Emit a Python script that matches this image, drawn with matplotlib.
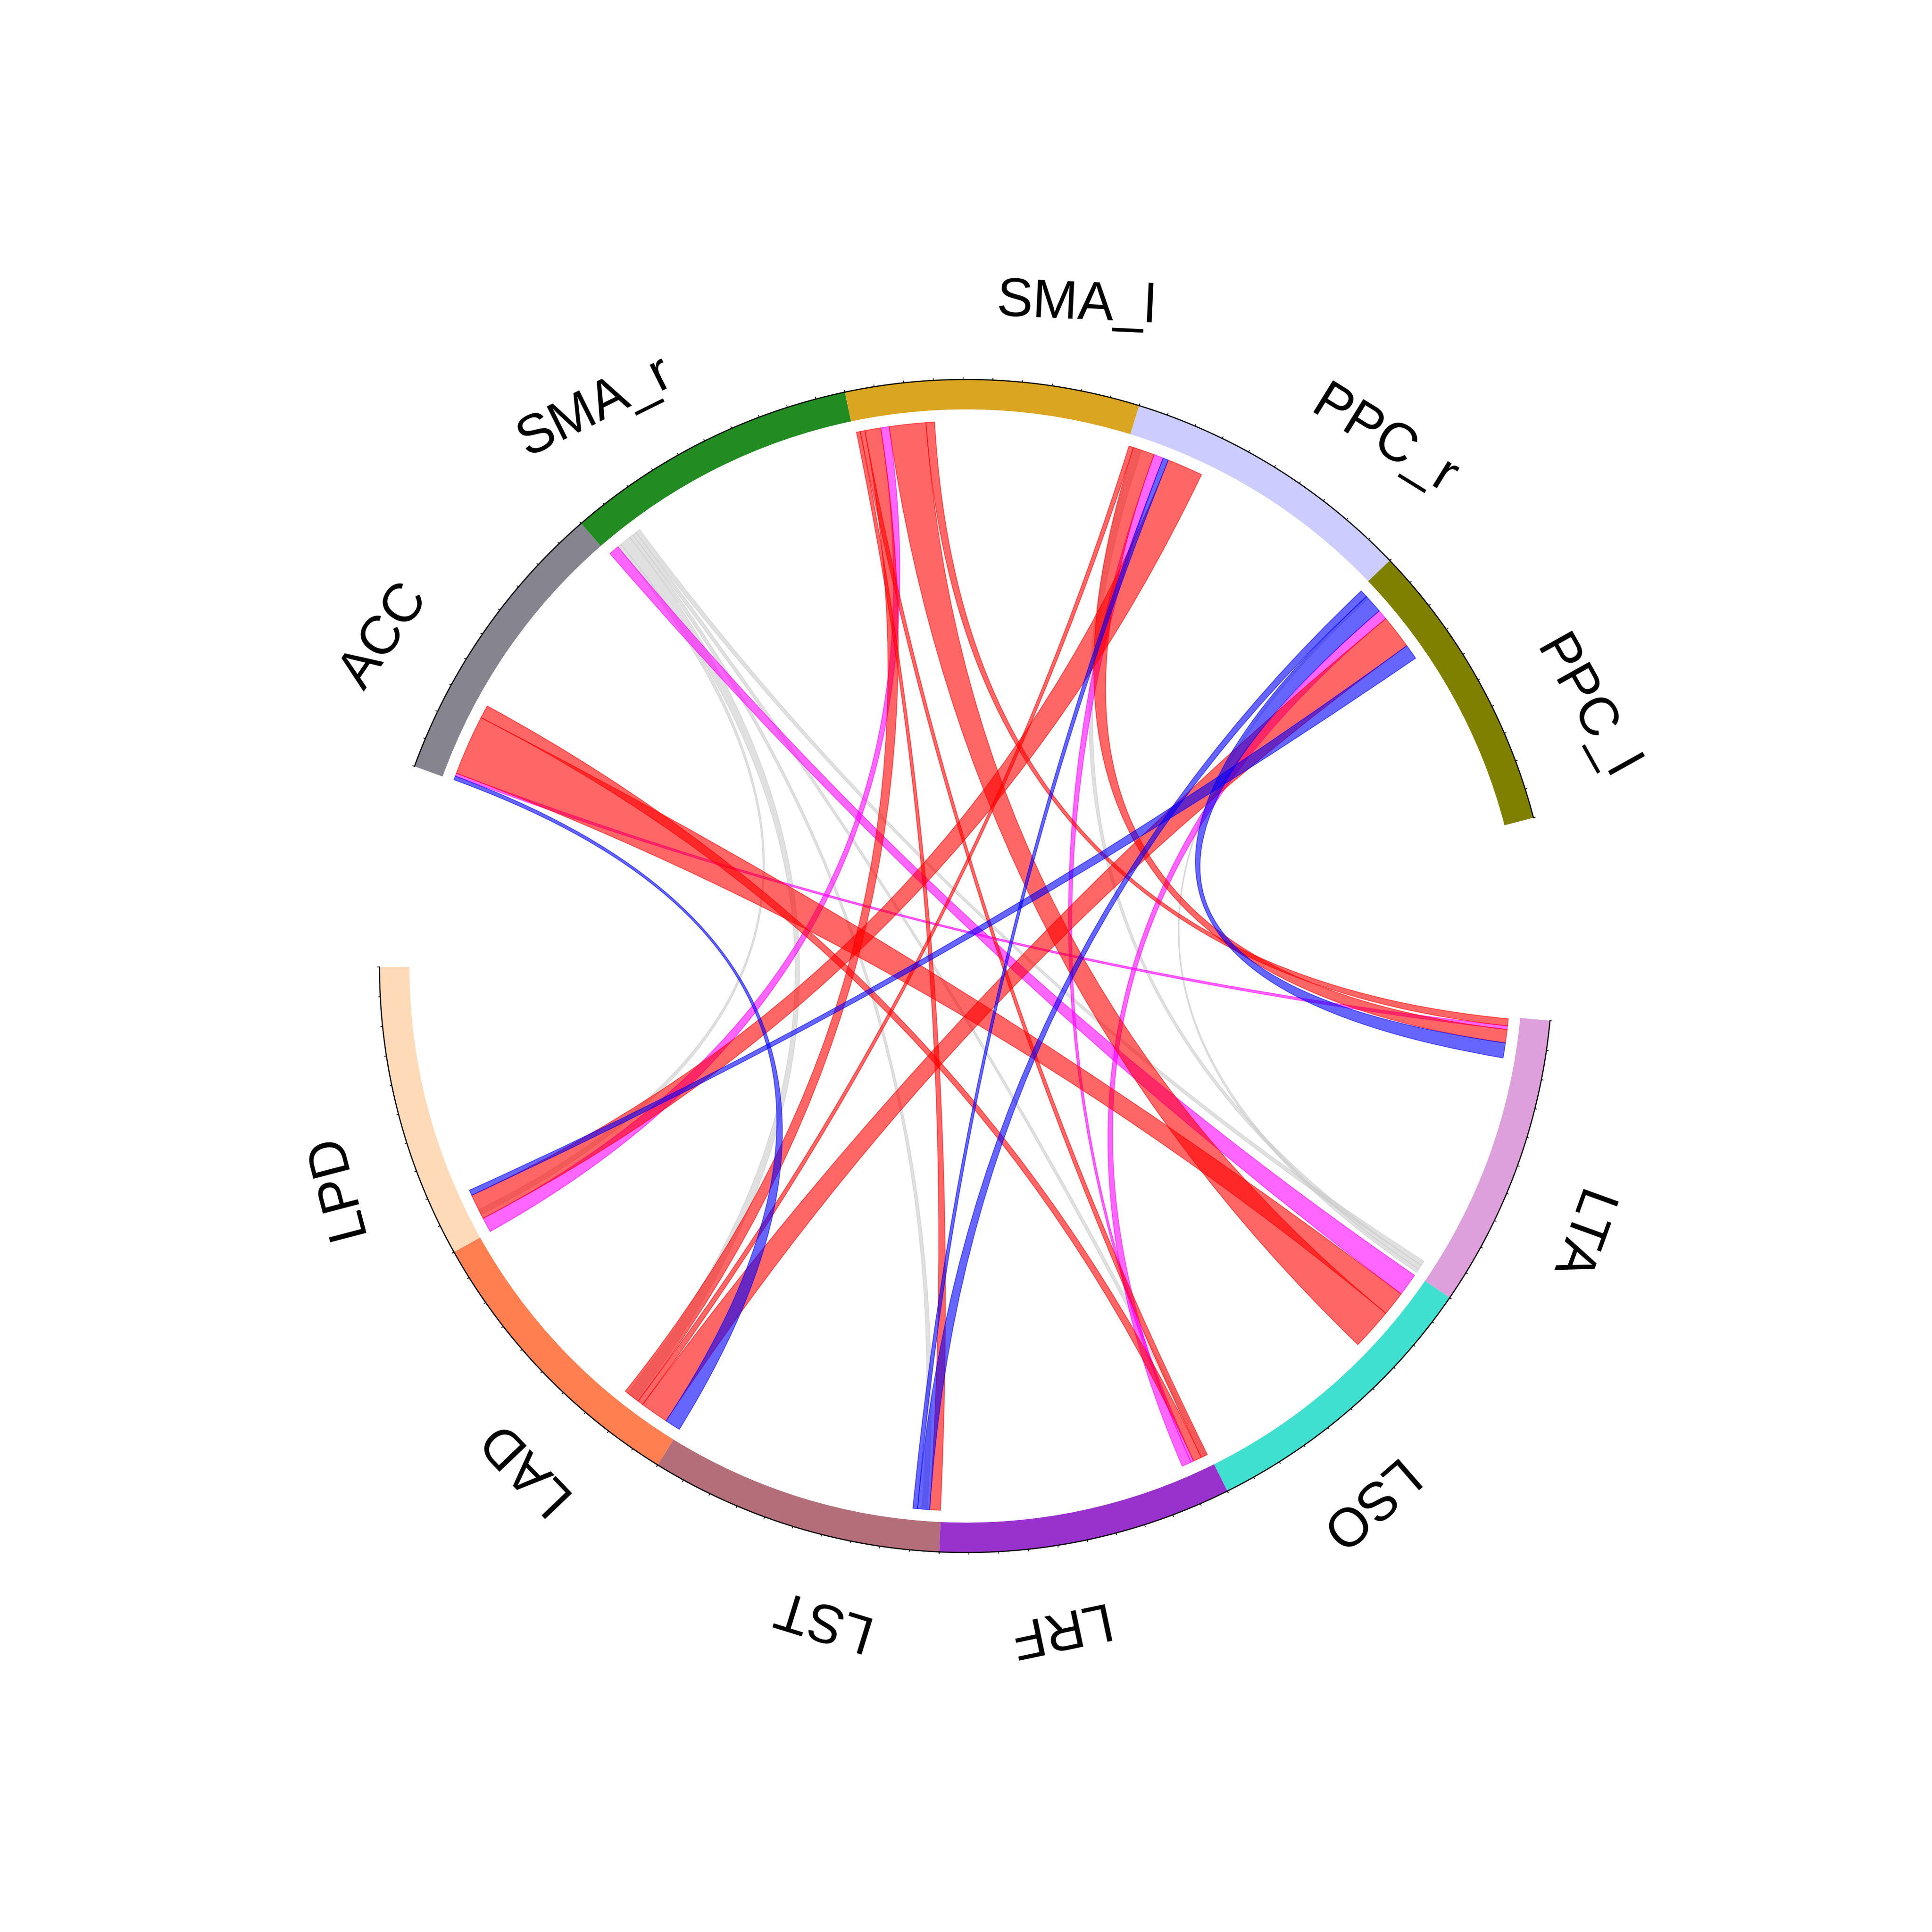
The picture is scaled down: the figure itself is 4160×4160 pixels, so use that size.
import numpy as np
import matplotlib
matplotlib.use("Agg")
import matplotlib.pyplot as plt
from matplotlib.path import Path
from matplotlib.patches import PathPatch, Wedge

plt.rcParams['font.family'] = ['Liberation Sans', 'DejaVu Sans']

# sectors, clockwise starting after the left gap
sectors = ["ACC", "SMA_r", "SMA_l", "PPC_r", "PPC_l", "LTA", "LSO", "LRF", "LST", "LAD", "LPD"]
sector_colors = ["#86848f", "#228b22", "#daa520", "#ccccff", "#808000", "#dda0dd",
                 "#40e0d0", "#9932cc", "#b36e7a", "#ff7f50", "#ffdab9"]
gap_after = ["PPC_l", "LPD"]

# links: source sector + range, target sector + range (sector units 0-100), kind
link_src = ["ACC", "ACC", "ACC", "ACC",
            "SMA_r", "SMA_r", "SMA_r", "SMA_r", "SMA_r", "SMA_r",
            "SMA_l", "SMA_l", "SMA_l", "SMA_l", "SMA_l", "SMA_l",
            "PPC_r", "PPC_r", "PPC_r", "PPC_r", "PPC_r", "PPC_r",
            "PPC_l", "PPC_l", "PPC_l", "PPC_l", "PPC_l", "PPC_l"]
link_src_pos = [(0.3, 1.7), (1.7, 2.8), (2.8, 24.8), (24.8, 29.6),
                (0.7, 4.5), (4.5, 5.9), (5.9, 10.0), (10.0, 11.4), (11.4, 12.8), (12.8, 14.5),
                (1.1, 2.5), (2.5, 4.2), (4.2, 10.0), (10.0, 13.1), (13.1, 26.5), (26.5, 29.6),
                (0.8, 2.5), (2.5, 10.4), (10.4, 13.9), (13.9, 15.9), (15.9, 29.0), (2.9, 5.6),
                (0.8, 3.6), (3.6, 10.5), (3.9, 4.6), (10.5, 14.2), (14.2, 26.6), (26.6, 32.1)]
link_dst = ["LAD", "LTA", "LSO", "LRF",
            "LSO", "LPD", "LAD", "LST", "LRF", "LTA",
            "LST", "LRF", "LAD", "LPD", "LSO", "LTA",
            "LAD", "LTA", "LRF", "LST", "LPD", "LTA",
            "LST", "LTA", "LTA", "LRF", "LAD", "LPD"]
link_dst_pos = [(0.1, 5.8), (3.3, 4.6), (8.8, 17.7), (3.0, 6.1),
                (0.5, 8.8), (7.0, 9.0), (19.0, 23.0), (5.0, 7.0), (1.0, 2.6), (94.4, 96.1),
                (0.2, 4.1), (0.6, 3.0), (18.2, 24.0), (0.1, 5.5), (17.7, 32.9), (0.7, 3.3),
                (16.1, 18.2), (4.6, 9.5), (6.1, 7.1), (8.5, 10.2), (5.5, 14.8), (96.1, 97.8),
                (4.1, 8.5), (9.5, 15.0), (97.8, 99.2), (7.1, 10.6), (5.8, 16.1), (14.8, 16.8)]
link_kind = ["blue", "magenta", "red", "red",
             "magenta", "gray", "gray", "gray", "gray", "gray",
             "red", "red", "red", "magenta", "red", "red",
             "red", "red", "magenta", "blue", "red", "gray",
             "blue", "blue", "gray", "magenta", "red", "blue"]

kind_color = {"red": "red", "blue": "blue", "magenta": "magenta", "gray": "#cccccc"}
kind_order = ["gray", "magenta", "red", "blue"]

# layout
start_angle = 289.9
gap = 20.0
seg = (360 - gap * len(gap_after)) / len(sectors)
sector_start = {}
a = start_angle
for name in sectors:
    sector_start[name] = a
    a += seg
    if name in gap_after:
        a += gap

r_out, r_in, r_link = 1.0, 0.949, 0.929


def pt(theta, r):
    phi = np.deg2rad(90 - theta)
    return r * np.cos(phi), r * np.sin(phi)


def pos2ang(name, p):
    return sector_start[name] + p / 100 * seg


def arc(t0, t1, r, n=40):
    return [pt(t, r) for t in np.linspace(t0, t1, n)]


fig = plt.figure(figsize=(10.4, 10.4), dpi=400)
ax = fig.add_axes([0, 0, 1, 1])
L = 1.647
ax.set_xlim(-L, L)
ax.set_ylim(-L, L)
ax.set_aspect("equal")
ax.axis("off")

# sector ring
for name, col in zip(sectors, sector_colors):
    t0 = sector_start[name]
    t1 = t0 + seg
    ax.add_patch(Wedge((0, 0), r_out, 90 - t1, 90 - t0, width=r_out - r_in,
                       facecolor=col, edgecolor="none"))
    xy = np.array(arc(t0, t1, r_out, 200))
    ax.plot(xy[:, 0], xy[:, 1], color="black", lw=0.45)
    for t in np.arange(t0, t1 + 1e-6, seg / 10):
        p1 = pt(t, r_out)
        p2 = pt(t, r_out + 0.003)
        ax.plot([p1[0], p2[0]], [p1[1], p2[1]], color="black", lw=0.3)

    # label
    mid = t0 + seg / 2
    lx, ly = pt(mid, 1.135)
    right = (mid % 360) < 180
    ax.text(lx, ly, name, fontsize=21, rotation=-mid, rotation_mode="anchor",
            ha="left" if right else "right", va="center")

# links
for kind in kind_order:
    for s, sp, d, dp, k in zip(link_src, link_src_pos, link_dst, link_dst_pos, link_kind):
        if k != kind:
            continue
        a0, a1 = pos2ang(s, sp[0]), pos2ang(s, sp[1])
        b0, b1 = pos2ang(d, dp[0]), pos2ang(d, dp[1])
        verts = arc(a0, a1, r_link)
        codes = [Path.MOVETO] + [Path.LINETO] * (len(verts) - 1)
        verts += [(0, 0), pt(b0, r_link)]
        codes += [Path.CURVE3, Path.CURVE3]
        ab = arc(b0, b1, r_link)
        verts += ab[1:]
        codes += [Path.LINETO] * (len(ab) - 1)
        verts += [(0, 0), pt(a0, r_link)]
        codes += [Path.CURVE3, Path.CURVE3]
        verts.append((0, 0))
        codes.append(Path.CLOSEPOLY)
        c = kind_color[k]
        ax.add_patch(PathPatch(Path(verts, codes), facecolor=c, edgecolor=c,
                               alpha=0.6, lw=0.3))

fig.savefig("out.png", dpi=400, facecolor="white")
